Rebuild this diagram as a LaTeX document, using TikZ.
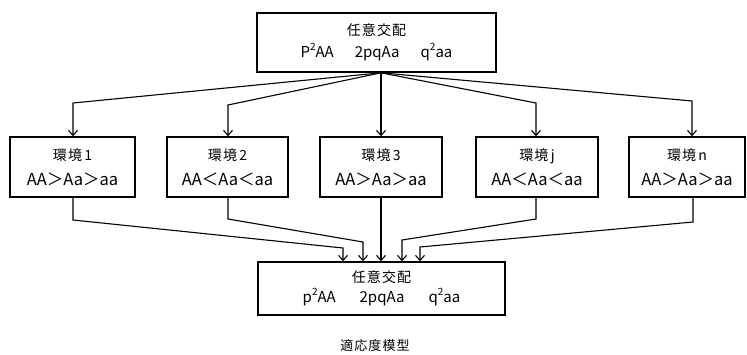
\documentclass[tikz,border=0pt]{standalone}
\usepackage{fontspec}
\setmainfont{Noto Sans CJK JP}
\newfontfamily\cjkwide[LetterSpace=8]{Noto Sans CJK JP}
\usetikzlibrary{arrows.meta}
\newcommand{\sqr}{\raisebox{0.45em}{\fontsize{10}{10}\selectfont 2}}
\tikzset{
  box/.style={draw, line width=1.6pt, inner sep=0pt, align=center},
  envbox/.style={box, minimum height=60pt, font=\fontsize{16.5}{25}\selectfont},
  conn/.style={line width=1.1pt},
  arr/.style={conn, -{Straight Barb[length=5pt,width=9pt,line width=1.1pt]}},
}
\begin{document}
\begin{tikzpicture}[x=1pt,y=-1pt]
\useasboundingbox (0,0) rectangle (747,354);
% top box
\node[box, minimum width=239pt, minimum height=59pt, font=\fontsize{15}{22}\selectfont] (top) at (376.5,42.5)
  {{\cjkwide\fontsize{14}{22}\selectfont 任意交配}\\P\sqr AA\hspace{1.4em}2pqAa\hspace{1.4em}q\sqr aa};
% environment boxes
\node[envbox, minimum width=125pt] (env1) at (72.5,167) {{\cjkwide\fontsize{14}{25}\selectfont 環境\,1}\\AA＞Aa＞aa};
\node[envbox, minimum width=121pt] (env2) at (227.5,167) {{\cjkwide\fontsize{14}{25}\selectfont 環境\,2}\\AA＜Aa＜aa};
\node[envbox, minimum width=122pt] (env3) at (381,167) {{\cjkwide\fontsize{14}{25}\selectfont 環境\,3}\\AA＞Aa＞aa};
\node[envbox, minimum width=122pt] (envj) at (537,167) {{\cjkwide\fontsize{14}{25}\selectfont 環境\,j}\\AA＜Aa＜aa};
\node[envbox, minimum width=116pt] (envn) at (687,167) {{\cjkwide\fontsize{14}{25}\selectfont 環境\,n}\\AA＞Aa＞aa};
% bottom box
\node[box, minimum width=247pt, minimum height=53pt, font=\fontsize{15}{20}\selectfont] (bot) at (381.5,288.5)
  {{\cjkwide\fontsize{14}{20}\selectfont 任意交配}\\p\sqr AA\hspace{1.6em}2pqAa\hspace{1.6em}q\sqr aa};
% caption
\node[font=\cjkwide\fontsize{13}{13}\selectfont, inner sep=0pt] (cap) at (375,346) {適応度模型};
% top fan-out
\coordinate (t0) at (env3.north |- top.south);
\coordinate (a1) at (73,103);
\coordinate (a2) at (228,105);
\coordinate (aj) at (536,103);
\coordinate (an) at (692,101);
\draw[arr] (t0) -- (a1) -- (a1 |- env1.north);
\draw[arr] (t0) -- (a2) -- (a2 |- env2.north);
\draw[arr] (t0) -- (env3.north);
\draw[arr] (t0) -- (aj) -- (aj |- envj.north);
\draw[arr] (t0) -- (an) -- (an |- envn.north);
% bottom fan-in
\coordinate (c1) at (73,220);  \coordinate (d1) at (343,248);
\coordinate (c2) at (228,219); \coordinate (d2) at (363,242);
\coordinate (cj) at (536,219); \coordinate (dj) at (402,240);
\coordinate (cn) at (693,222); \coordinate (dn) at (420,247);
\draw[arr] (c1 |- env1.south) -- (c1) -- (d1) -- (d1 |- bot.north);
\draw[arr] (c2 |- env2.south) -- (c2) -- (d2) -- (d2 |- bot.north);
\draw[arr] (env3.south) -- (env3.south |- bot.north);
\draw[arr] (cj |- envj.south) -- (cj) -- (dj) -- (dj |- bot.north);
\draw[arr] (cn |- envn.south) -- (cn) -- (dn) -- (dn |- bot.north);
\end{tikzpicture}
\end{document}
